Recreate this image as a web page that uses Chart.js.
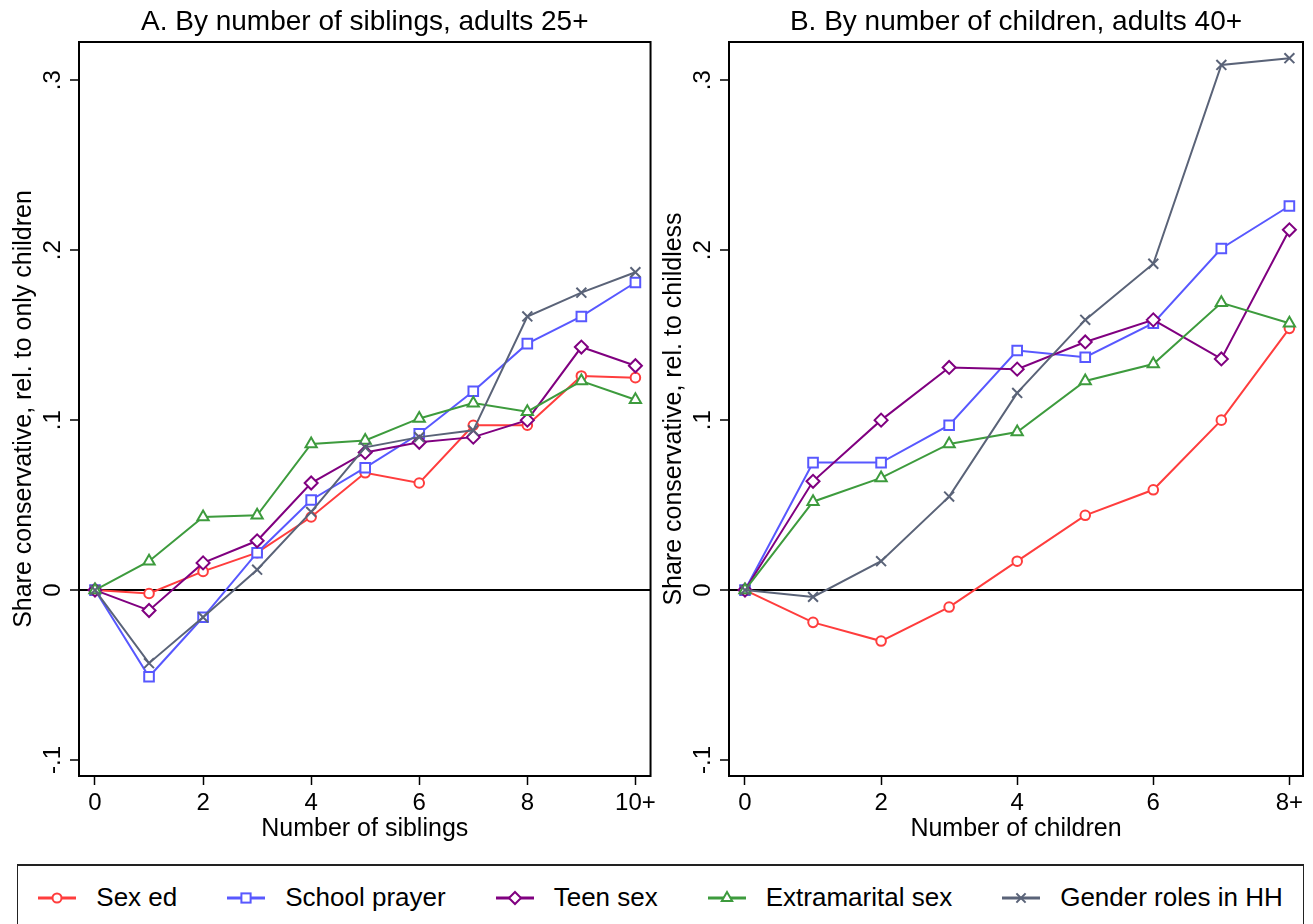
<!DOCTYPE html>
<html>
<head>
<meta charset="utf-8">
<title>Share conservative by siblings and children</title>
<script src="https://cdn.jsdelivr.net/npm/chart.js@4.4.1/dist/chart.umd.min.js"></script>
<style>
  html, body { margin: 0; padding: 0; background: #fff; width: 1313px; height: 924px; overflow: hidden; }
  body { position: relative; font-family: "Liberation Sans", Arial, Helvetica, sans-serif; color: #000; }
  canvas { position: absolute; top: 0; }
  #chartA { left: 0; }
  #chartB { left: 650px; }
  #legend {
    position: absolute; left: 17px; top: 864px; width: 1287px; height: 66px;
    box-sizing: border-box; border: 1.5px solid #222; border-top-width: 2px;
    display: flex; align-items: center; justify-content: center;
  }
  .item { display: flex; align-items: center; margin: 0 25px; font-size: 26px; white-space: nowrap; }
  .item svg { margin-right: 20px; }
</style>
</head>
<body>
<canvas id="chartA" width="660" height="850"></canvas>
<canvas id="chartB" width="663" height="850"></canvas>
<div id="legend"></div>

<script>
// x positions
const siblings = [0, 1, 2, 3, 4, 5, 6, 7, 8, 9, 10];
const children = [0, 1, 2, 3, 4, 5, 6, 7, 8];

// series
const seriesNames   = ["Sex ed", "School prayer", "Teen sex", "Extramarital sex", "Gender roles in HH"];
const seriesColors  = ["#ff3d3d", "#5858ff", "#800080", "#3d9b3d", "#5a6378"];
const seriesMarkers = ["circle", "rect", "rectRot", "triangle", "crossRot"];
const markerRadius  = [4.8, 6.8, 6.5, 6.5, 7];

// panel A: by number of siblings, adults 25+
const sexEdA   = [0, -0.002, 0.011, 0.022, 0.043, 0.069, 0.063, 0.097, 0.097, 0.126, 0.125];
const prayerA  = [0, -0.051, -0.016, 0.022, 0.053, 0.072, 0.092, 0.117, 0.145, 0.161, 0.181];
const teenA    = [0, -0.012, 0.016, 0.029, 0.063, 0.081, 0.087, 0.090, 0.100, 0.143, 0.132];
const extraA   = [0, 0.017, 0.043, 0.044, 0.086, 0.088, 0.101, 0.110, 0.105, 0.123, 0.112];
const genderA  = [0, -0.043, -0.016, 0.012, 0.046, 0.084, 0.090, 0.094, 0.161, 0.175, 0.187];

// panel B: by number of children, adults 40+
const sexEdB   = [0, -0.019, -0.030, -0.010, 0.017, 0.044, 0.059, 0.100, 0.154];
const prayerB  = [0, 0.075, 0.075, 0.097, 0.141, 0.137, 0.157, 0.201, 0.226];
const teenB    = [0, 0.064, 0.100, 0.131, 0.130, 0.146, 0.159, 0.136, 0.212];
const extraB   = [0, 0.052, 0.066, 0.086, 0.093, 0.123, 0.133, 0.169, 0.157];
const genderB  = [0, -0.004, 0.017, 0.055, 0.116, 0.159, 0.192, 0.309, 0.313];

// ticks
const yTicks  = [-0.1, 0, 0.1, 0.2, 0.3];
const xTicksA = [0, 2, 4, 6, 8, 10];
const xTicksB = [0, 2, 4, 6, 8];

const FONT = "'Liberation Sans', Arial, Helvetica, sans-serif";

// stata-style decimals: .1, -.1, 0
function yLabel(v){
  if (v === 0) return "0";
  return (v < 0 ? "-" : "") + String(Math.abs(v)).replace(/^0/, "");
}

// boxed plot region + panel heading centred over it
const panelFrame = {
  id: "panelFrame",
  afterDraw(chart, args, opts){
    const { ctx, chartArea: a } = chart;
    ctx.save();
    ctx.strokeStyle = "#000";
    ctx.lineWidth = 2;
    ctx.strokeRect(a.left, a.top, a.right - a.left, a.bottom - a.top);
    ctx.fillStyle = "#000";
    ctx.font = "28px " + FONT;
    ctx.textAlign = "center";
    ctx.textBaseline = "alphabetic";
    ctx.fillText(opts.text, (a.left + a.right) / 2, 30);
    ctx.restore();
  }
};

function buildPanel(id, xs, values, xMin, xMax, xTicks, lastLabel, heading, xTitle, yTitle, padRight){
  return new Chart(document.getElementById(id), {
    type: "line",
    data: {
      datasets: values.map((ys, i) => ({
        label: seriesNames[i],
        data: xs.map((x, j) => ({ x: x, y: ys[j] })),
        borderColor: seriesColors[i],
        backgroundColor: "#fff",
        borderWidth: 2,
        pointStyle: seriesMarkers[i],
        pointRadius: markerRadius[i],
        pointBorderWidth: 2,
        pointBorderColor: seriesColors[i],
        pointBackgroundColor: "#fff",
        tension: 0,
        order: values.length - i,
        clip: false
      }))
    },
    options: {
      responsive: false,
      animation: false,
      events: [],
      layout: { padding: { top: 42, right: padRight, bottom: 0, left: 0 } },
      plugins: {
        legend: { display: false },
        tooltip: { enabled: false },
        panelFrame: { text: heading }
      },
      scales: {
        x: {
          type: "linear",
          min: xMin,
          max: xMax,
          afterBuildTicks: (s) => { s.ticks = xTicks.map(v => ({ value: v })); },
          afterFit: (s) => { s.height = 74; },
          border: { display: false },
          grid: { drawOnChartArea: false, drawTicks: true, tickLength: 9, tickColor: "#000", tickWidth: 1.5 },
          ticks: {
            color: "#000",
            font: { family: FONT, size: 24 },
            padding: 4,
            maxRotation: 0,
            autoSkip: false,
            callback: (v) => v === xTicks[xTicks.length - 1] ? lastLabel : String(v)
          },
          title: { display: true, text: xTitle, color: "#000", font: { family: FONT, size: 25 }, padding: { top: 0, bottom: 6 } }
        },
        y: {
          type: "linear",
          min: -0.1094,
          max: 0.3225,
          afterBuildTicks: (s) => { s.ticks = yTicks.map(v => ({ value: v })); },
          afterFit: (s) => { s.width = 79; },
          border: { display: false },
          grid: {
            color: (c) => (c.tick && c.tick.value === 0) ? "#000" : "rgba(0,0,0,0)",
            lineWidth: 2,
            drawTicks: true,
            tickLength: 9,
            tickColor: "#000",
            tickWidth: 1.5
          },
          ticks: {
            color: "#000",
            font: { family: FONT, size: 24 },
            padding: 3,
            minRotation: 90,
            maxRotation: 90,
            crossAlign: "center",
            callback: (v) => yLabel(v)
          },
          title: { display: true, text: yTitle, color: "#000", font: { family: FONT, size: 25 }, padding: { top: 9, bottom: 0 } }
        }
      }
    },
    plugins: [panelFrame]
  });
}

buildPanel("chartA", siblings, [sexEdA, prayerA, teenA, extraA, genderA],
  -0.296, 10.28, xTicksA, "10+",
  "A. By number of siblings, adults 25+", "Number of siblings",
  "Share conservative, rel. to only children", 5);

buildPanel("chartB", children, [sexEdB, prayerB, teenB, extraB, genderB],
  -0.235, 8.2, xTicksB, "8+",
  "B. By number of children, adults 40+", "Number of children",
  "Share conservative, rel. to childless", 10);

// shared key under both panels
function markerSvg(style, color){
  const c = 19, m = 13;
  let shape = "";
  if (style === "circle") shape = `<circle cx="${c}" cy="${m}" r="4.5"/>`;
  else if (style === "rect") shape = `<rect x="${c - 4.6}" y="${m - 4.6}" width="9.2" height="9.2"/>`;
  else if (style === "rectRot") shape = `<polygon points="${c},${m - 6} ${c + 6},${m} ${c},${m + 6} ${c - 6},${m}"/>`;
  else if (style === "triangle") shape = `<polygon points="${c},${m - 6} ${c + 5.2},${m + 3} ${c - 5.2},${m + 3}"/>`;
  else shape = `<path d="M${c - 4.6} ${m - 4.6} L${c + 4.6} ${m + 4.6} M${c + 4.6} ${m - 4.6} L${c - 4.6} ${m + 4.6}"/>`;
  return `<svg width="38" height="26" viewBox="0 0 38 26">
    <line x1="0" y1="${m}" x2="38" y2="${m}" stroke="${color}" stroke-width="3"/>
    <g fill="#fff" stroke="${color}" stroke-width="2">${shape}</g></svg>`;
}

const legendEl = document.getElementById("legend");
seriesNames.forEach((name, i) => {
  const item = document.createElement("div");
  item.className = "item";
  item.innerHTML = markerSvg(seriesMarkers[i], seriesColors[i]) + `<span>${name}</span>`;
  legendEl.appendChild(item);
});
</script>
</body>
</html>
